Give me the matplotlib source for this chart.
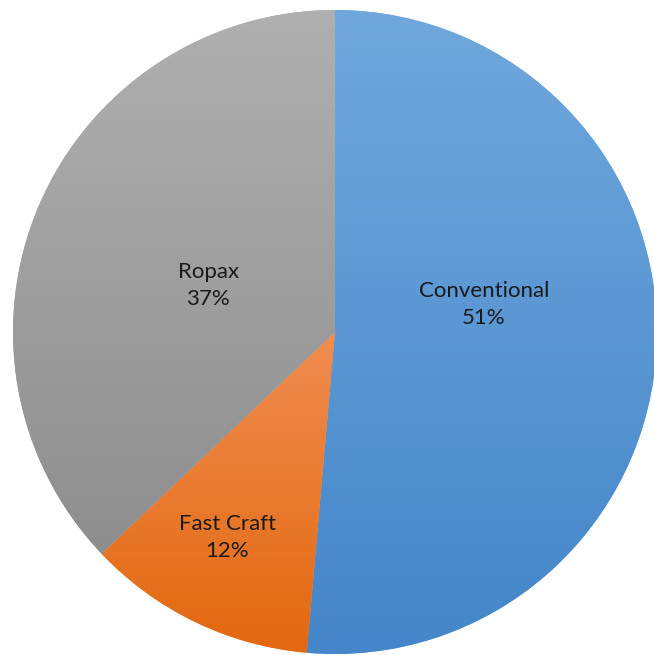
import numpy as np
import matplotlib
matplotlib.use("Agg")
import matplotlib.pyplot as plt
from matplotlib.colors import LinearSegmentedColormap

# ========= Data =========
labels = ["Conventional", "Fast Craft", "Ropax"]
shares = [51.4, 11.5, 37.1]
pct_labels = ["51%", "12%", "37%"]

# gradient colours per slice (top, bottom)
grad_colors = [("#70a8dd", "#4486c9"), ("#f08d50", "#e3680f"), ("#b0b0b0", "#8e8e8e")]
label_dist = [0.47, 0.72, 0.42]
label_shift = [13, -2, 3]  # degrees

plt.rcParams["font.family"] = ["Lato", "DejaVu Sans"]

fig = plt.figure(figsize=(6.54, 6.55), dpi=100)
ax = fig.add_axes([0, 0, 1, 1])

wedges, _ = ax.pie(shares, startangle=90, counterclock=False, radius=1.0,
                   colors=[c[0] for c in grad_colors],
                   wedgeprops=dict(linewidth=0))

# vertical gradient inside each wedge
for w, (top, bot) in zip(wedges, grad_colors):
    cmap = LinearSegmentedColormap.from_list("g", [bot, top])
    grad = np.linspace(0, 1, 256).reshape(-1, 1)
    bb = w.get_path().get_extents(w.get_transform() - ax.transData)
    im = ax.imshow(grad, cmap=cmap, origin="lower", aspect="auto",
                   extent=[bb.x0, bb.x1, bb.y0, bb.y1], zorder=2)
    im.set_clip_path(w)

# labels
total = sum(shares)
start = 90.0
for i, (lab, pct) in enumerate(zip(labels, pct_labels)):
    span = shares[i] / total * 360
    mid = np.deg2rad(start - span / 2 + label_shift[i])
    start -= span
    x, y = label_dist[i] * np.cos(mid), label_dist[i] * np.sin(mid)
    ax.text(x, y, lab + "\n" + pct, ha="center", va="center", fontsize=16,
            linespacing=1.45, color="#1a1a1a", zorder=5)

r_px = 322
cx, cy = 335, 332
ax.set_xlim(-cx / r_px, (654 - cx) / r_px)
ax.set_ylim(-(655 - cy) / r_px, cy / r_px)
ax.set_aspect("equal")
ax.axis("off")

fig.savefig("out.png", dpi=100, facecolor="white")
